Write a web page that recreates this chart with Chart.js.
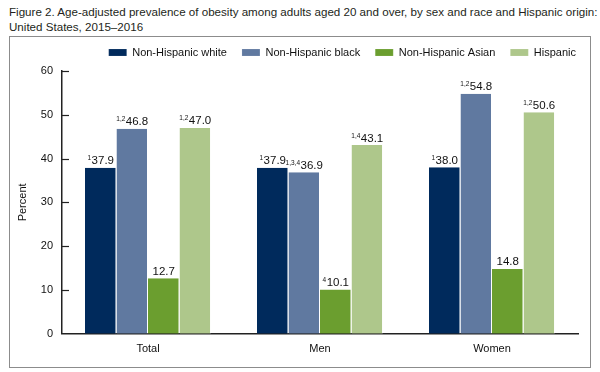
<!DOCTYPE html>
<html>
<head>
<meta charset="utf-8">
<script src="https://cdn.jsdelivr.net/npm/chart.js@4"></script>
<style>
  body { margin: 0; background: #fff; font-family: "Liberation Sans", Arial, sans-serif; }
  #title { position: absolute; left: 9px; top: 4px; font-size: 11.6px; line-height: 15px; color: #231f20; white-space: nowrap; }
  #frame { position: absolute; left: 9px; top: 36px; width: 580px; height: 330px; border: 1px solid #8c8c8c; }
  canvas { display: block; }
</style>
</head>
<body>
<div id="title">Figure 2. Age-adjusted prevalence of obesity among adults aged 20 and over, by sex and race and Hispanic origin:<br>United States, 2015–2016</div>
<div id="frame"><canvas id="obesityChart" width="580" height="330"></canvas></div>
<script>
const categories = ["Total", "Men", "Women"];
const seriesNames = ["Non-Hispanic white", "Non-Hispanic black", "Non-Hispanic Asian", "Hispanic"];
const whiteValues = [37.9, 37.9, 38.0];
const blackValues = [46.8, 36.9, 54.8];
const asianValues = [12.7, 10.1, 14.8];
const hispanicValues = [47.0, 43.1, 50.6];
// footnote marks printed before each value
const whiteNotes = ["1", "1", "1"];
const blackNotes = ["1,2", "1,3,4", "1,2"];
const asianNotes = ["", "4", ""];
const hispanicNotes = ["1,2", "1,4", "1,2"];
const yTicks = [0, 10, 20, 30, 40, 50, 60];

const colors = ["#002a5c", "#6079a0", "#6b9e2f", "#aec78b"];
const allValues = [whiteValues, blackValues, asianValues, hispanicValues];
const allNotes = [whiteNotes, blackNotes, asianNotes, hispanicNotes];

// draws "¹37.9" style labels over each bar
const barLabels = {
    id: 'barLabels',
    afterDatasetsDraw(chart) {
        const ctx = chart.ctx;
        ctx.save();
        ctx.fillStyle = '#111';
        ctx.textBaseline = 'alphabetic';
        ctx.textAlign = 'left';
        chart.data.datasets.forEach((ds, i) => {
            const meta = chart.getDatasetMeta(i);
            meta.data.forEach((bar, j) => {
                const val = ds.data[j].toFixed(1);
                const note = allNotes[i][j];
                ctx.font = '6.5px "Liberation Sans", Arial, sans-serif';
                const nw = note ? ctx.measureText(note).width + 0.5 : 0;
                ctx.font = '11.5px "Liberation Sans", Arial, sans-serif';
                const vw = ctx.measureText(val).width;
                const x0 = bar.x - (nw + vw) / 2;
                const base = bar.y - 3.5;
                if (note) {
                    ctx.font = '6.5px "Liberation Sans", Arial, sans-serif';
                    ctx.fillText(note, x0, base - 4);
                }
                ctx.font = '11.5px "Liberation Sans", Arial, sans-serif';
                ctx.fillText(val, x0 + nw, base);
            });
        });
        ctx.restore();
    }
};

// short tick marks pointing into the plot, like the original
const innerTicks = {
    id: 'innerTicks',
    afterDraw(chart) {
        const y = chart.scales.y;
        const ctx = chart.ctx;
        ctx.save();
        ctx.strokeStyle = '#222';
        ctx.lineWidth = 1.2;
        yTicks.forEach(v => {
            if (v === 0) return;
            const py = Math.round(y.getPixelForValue(v)) + 0.5;
            ctx.beginPath();
            ctx.moveTo(chart.chartArea.left, py);
            ctx.lineTo(chart.chartArea.left + 7, py);
            ctx.stroke();
        });
        ctx.restore();
    }
};

// nudge the legend to where the original sits
const legendShift = {
    id: 'legendShift',
    afterLayout(chart) {
        const lg = chart.legend;
        lg.left += 13; lg.right += 13;
        lg.top -= 5; lg.bottom -= 5;
    }
};

function initializeChart() {
    const ctx = document.getElementById('obesityChart').getContext('2d');
    new Chart(ctx, {
        type: 'bar',
        data: {
            labels: categories,
            datasets: seriesNames.map((name, i) => ({
                label: name,
                data: allValues[i],
                backgroundColor: colors[i],
                borderColor: 'rgba(255,255,255,0.5)',
                borderWidth: { left: 0, right: 1, top: 0, bottom: 0 },
                borderSkipped: false,
                categoryPercentage: 0.733,
                barPercentage: 1.0
            }))
        },
        options: {
            responsive: false,
            animation: false,
            layout: { padding: { top: 0, right: 12, bottom: 3, left: 0 } },
            plugins: {
                legend: {
                    position: 'top',
                    align: 'end',
                    maxHeight: 34,
                    labels: {
                        boxWidth: 18,
                        boxHeight: 7,
                        padding: 15,
                        color: '#111',
                        font: { family: '"Liberation Sans", Arial, sans-serif', size: 11 }
                    }
                },
                tooltip: { enabled: false }
            },
            scales: {
                x: {
                    grid: { display: false, drawTicks: false },
                    border: { display: true, color: '#222', width: 1.5 },
                    ticks: {
                        color: '#111',
                        padding: 8.5,
                        font: { family: '"Liberation Sans", Arial, sans-serif', size: 11 }
                    }
                },
                y: {
                    min: 0,
                    max: 60,
                    afterFit(scale) { scale.width = 52; },
                    afterBuildTicks(scale) { scale.ticks = yTicks.map(v => ({ value: v })); },
                    grid: { display: false, drawTicks: false },
                    border: { display: true, color: '#222', width: 1.5 },
                    ticks: {
                        color: '#111',
                        padding: 9,
                        font: { family: '"Liberation Sans", Arial, sans-serif', size: 11 }
                    },
                    title: {
                        display: true,
                        text: 'Percent',
                        color: '#111',
                        padding: { top: 6, bottom: 0 },
                        font: { family: '"Liberation Sans", Arial, sans-serif', size: 11 }
                    }
                }
            }
        },
        plugins: [barLabels, innerTicks, legendShift]
    });
}

initializeChart();
</script>
</body>
</html>
